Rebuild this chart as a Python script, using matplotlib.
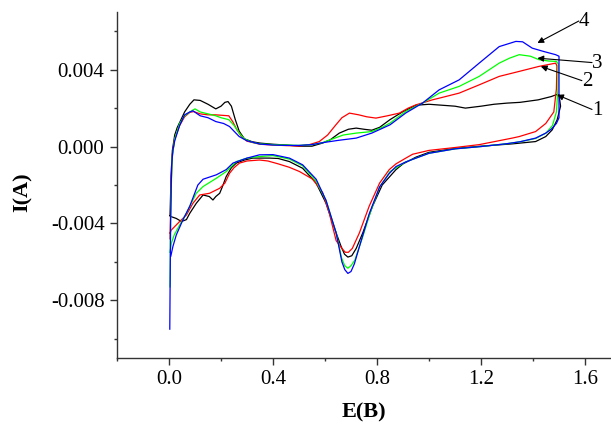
import numpy as np
import matplotlib
matplotlib.use('Agg')
import matplotlib.pyplot as plt
from matplotlib.ticker import MultipleLocator, FormatStrFormatter

plt.rc('font', family='Liberation Serif')

# curve 1 (black): anodic branch then cathodic branch
e1 = [0.004, 0.008, 0.013, 0.022, 0.032, 0.041, 0.06, 0.08, 0.096, 0.12, 0.15, 0.18, 0.2, 0.215, 0.227,
      0.24, 0.255, 0.27, 0.29, 0.32, 0.35, 0.4, 0.45, 0.5, 0.55, 0.59, 0.62, 0.655, 0.69, 0.72, 0.75, 0.78,
      0.81, 0.85, 0.9, 0.95, 1.0, 1.05, 1.1, 1.14, 1.2, 1.25, 1.3, 1.35, 1.42, 1.47, 1.49, 1.5,
      1.506, 1.493, 1.474, 1.449, 1.41, 1.32, 1.2, 1.1, 1.0, 0.95, 0.9, 0.873, 0.82, 0.783, 0.745, 0.72,
      0.703, 0.688, 0.675, 0.662, 0.643, 0.604, 0.566, 0.514, 0.463, 0.42, 0.387, 0.35, 0.322, 0.29, 0.259,
      0.24, 0.22, 0.205, 0.195, 0.18, 0.169, 0.155, 0.131, 0.105, 0.08, 0.067, 0.048, 0.028, 0.009, 0.004]
i1 = [-0.0036, -0.0015, -0.0002, 0.0006, 0.001, 0.00125, 0.0018, 0.0022, 0.00243, 0.0024, 0.0022, 0.00196,
      0.0021, 0.0023, 0.00234, 0.0021, 0.0014, 0.0008, 0.0004, 0.00025, 0.00018, 0.00012, 0.00008, 0.00002,
      0.00002, 0.00018, 0.00035, 0.0007, 0.0009, 0.00096, 0.0009, 0.00085, 0.001, 0.0014, 0.00182, 0.00215,
      0.0022, 0.00215, 0.0021, 0.002, 0.0021, 0.0022, 0.00226, 0.0023, 0.00243, 0.0026, 0.0027, 0.0027,
      0.0021, 0.0014, 0.00087, 0.00052, 0.00026, 0.00014, 0.00002, -0.0001, -0.0003, -0.00055, -0.0009,
      -0.0012, -0.002, -0.0031, -0.0045, -0.0053, -0.00568, -0.00575, -0.0056, -0.0052, -0.0045, -0.00295,
      -0.0019, -0.00113, -0.00078, -0.00062, -0.0006, -0.0006, -0.0006, -0.0007, -0.00086, -0.0011, -0.00156,
      -0.0021, -0.00243, -0.0026, -0.00278, -0.0026, -0.00252, -0.00295, -0.00347, -0.0038, -0.0039,
      -0.00374, -0.00365, -0.0036]

# curve 2 (red)
e2 = [0.004, 0.008, 0.013, 0.022, 0.041, 0.06, 0.08, 0.095, 0.12, 0.15, 0.18, 0.2, 0.23, 0.245, 0.26, 0.28,
      0.3, 0.35, 0.4, 0.45, 0.5, 0.54, 0.578, 0.61, 0.64, 0.665, 0.694, 0.73, 0.76, 0.796, 0.84, 0.886, 0.92,
      0.95, 1.013, 1.04, 1.116, 1.193, 1.27, 1.347, 1.423, 1.487,
      1.492, 1.49, 1.48, 1.449, 1.41, 1.347, 1.32, 1.193, 1.1, 1.0, 0.937, 0.911, 0.873, 0.847, 0.81, 0.77,
      0.732, 0.705, 0.69, 0.678, 0.665, 0.643, 0.617, 0.591, 0.553, 0.502, 0.463, 0.42, 0.38, 0.348, 0.3,
      0.271, 0.25, 0.233, 0.215, 0.195, 0.156, 0.118, 0.092, 0.067, 0.041, 0.009, 0.004]
i2 = [-0.0048, -0.002, -0.0004, 0.0004, 0.0011, 0.00155, 0.00178, 0.00182, 0.0017, 0.00165, 0.00165,
      0.00163, 0.0016, 0.0013, 0.0009, 0.0005, 0.00028, 0.00012, 0.00008, 0.00005, 0.00003, 0.0001, 0.00026,
      0.0006, 0.0011, 0.0015, 0.00174, 0.00165, 0.00155, 0.00148, 0.0016, 0.00174, 0.002, 0.00217, 0.00243,
      0.00252, 0.00278, 0.00321, 0.00365, 0.00391, 0.00417, 0.00434,
      0.0042, 0.003, 0.0018, 0.0012, 0.00078, 0.00052, 0.00044, 0.0001, -0.00005, -0.0002, -0.0004, -0.0006,
      -0.0009, -0.0012, -0.0019, -0.0031, -0.0045, -0.0053, -0.0055, -0.0055, -0.0053, -0.0049, -0.0035,
      -0.0024, -0.0017, -0.0013, -0.00108, -0.0009, -0.00075, -0.0007, -0.00075, -0.00086, -0.0011, -0.00139,
      -0.0019, -0.00217, -0.00243, -0.00252, -0.00295, -0.00356, -0.0039, -0.00434, -0.0045]

# curve 3 (green)
e3 = [0.004, 0.007, 0.012, 0.022, 0.041, 0.06, 0.08, 0.1, 0.12, 0.15, 0.18, 0.2, 0.23, 0.25, 0.27, 0.29,
      0.32, 0.35, 0.4, 0.45, 0.5, 0.55, 0.59, 0.63, 0.67, 0.72, 0.78, 0.82, 0.85, 0.91, 0.975, 1.039, 1.116,
      1.193, 1.27, 1.31, 1.347, 1.39, 1.423, 1.46, 1.49,
      1.497, 1.496, 1.49, 1.475, 1.45, 1.41, 1.35, 1.3, 1.2, 1.1, 1.0, 0.95, 0.91, 0.85, 0.81, 0.775, 0.745,
      0.715, 0.7, 0.688, 0.676, 0.664, 0.643, 0.604, 0.566, 0.514, 0.463, 0.4, 0.348, 0.3, 0.259, 0.22, 0.182,
      0.131, 0.105, 0.08, 0.067, 0.041, 0.02, 0.009, 0.004]
i3 = [-0.0073, -0.003, -0.0006, 0.0004, 0.0012, 0.0016, 0.0018, 0.00196, 0.0018, 0.0017, 0.0016, 0.0015,
      0.0014, 0.0011, 0.0007, 0.0004, 0.00022, 0.00014, 0.0001, 0.00008, 0.00006, 0.0001, 0.0002, 0.0004,
      0.0006, 0.0007, 0.00078, 0.001, 0.00122, 0.00182, 0.00226, 0.00278, 0.00313, 0.00365, 0.00434, 0.0046,
      0.00478, 0.0047, 0.00452, 0.00445, 0.00443,
      0.0043, 0.003, 0.0018, 0.0011, 0.0007, 0.00042, 0.00025, 0.00015, 0.0, -0.00012, -0.00035, -0.0006,
      -0.0008, -0.0013, -0.0021, -0.0034, -0.0047, -0.0059, -0.0062, -0.00633, -0.0062, -0.0058, -0.0045,
      -0.0028, -0.0018, -0.001, -0.00065, -0.00047, -0.00052, -0.0006, -0.00078, -0.0013, -0.00165, -0.00208,
      -0.00243, -0.0031, -0.00347, -0.00408, -0.0046, -0.00503, -0.0055]

# curve 4 (blue)
e4 = [0.003, 0.006, 0.01, 0.015, 0.022, 0.041, 0.06, 0.08, 0.092, 0.12, 0.15, 0.18, 0.21, 0.233, 0.25, 0.27,
      0.3, 0.35, 0.4, 0.45, 0.5, 0.55, 0.59, 0.65, 0.72, 0.78, 0.85, 0.91, 0.975, 1.039, 1.116, 1.193, 1.27,
      1.334, 1.36, 1.397, 1.44, 1.487, 1.5,
      1.5, 1.49, 1.47, 1.449, 1.41, 1.35, 1.3, 1.2, 1.1, 1.0, 0.95, 0.911, 0.873, 0.847, 0.81, 0.77, 0.739,
      0.713, 0.7, 0.688, 0.676, 0.665, 0.643, 0.604, 0.566, 0.514, 0.463, 0.4, 0.348, 0.3, 0.246, 0.22, 0.182,
      0.131, 0.111, 0.08, 0.054, 0.028, 0.015, 0.007]
i4 = [-0.0095, -0.004, -0.001, -0.0002, 0.0003, 0.0011, 0.00165, 0.0018, 0.00186, 0.0016, 0.0015, 0.0013,
      0.0012, 0.00104, 0.0008, 0.00052, 0.0003, 0.00013, 0.00008, 0.00006, 0.00006, 0.0001, 0.0002, 0.00032,
      0.00044, 0.0007, 0.00113, 0.00174, 0.00226, 0.00295, 0.00347, 0.00434, 0.0052, 0.00547, 0.00545,
      0.00512, 0.00495, 0.00478, 0.0047,
      0.0015, 0.0012, 0.0009, 0.0007, 0.00044, 0.00025, 0.00015, 0.0, -0.00012, -0.00035, -0.0006, -0.0008,
      -0.00104, -0.0014, -0.0021, -0.0035, -0.0049, -0.0061, -0.0065, -0.0066, -0.0064, -0.006, -0.0045,
      -0.0028, -0.0017, -0.00095, -0.0006, -0.00042, -0.00043, -0.0006, -0.00086, -0.0012, -0.00147, -0.0017,
      -0.002, -0.0031, -0.0038, -0.0046, -0.0052, -0.0057]

curves = [(e1, i1, 'black'), (e2, i2, '#ff0000'), (e3, i3, '#00ff00'), (e4, i4, '#0000ff')]

# curve labels: text position, arrow head position
labels = ['1', '2', '3', '4']
label_xy = [(1.647, 0.0019), (1.608, 0.0034), (1.647, 0.00434), (1.596, 0.0065)]
arrow_xy = [(1.493, 0.00269), (1.43, 0.00417), (1.417, 0.0046), (1.417, 0.00539)]

fig = plt.figure(figsize=(6.11, 4.26), dpi=100)
ax = fig.add_axes([117 / 611, 68 / 426, 494 / 611, 346 / 426])

for e, i, c in curves:
    ax.plot(e, i, color=c, lw=0.9)

for lab, (tx, ty), (hx, hy) in zip(labels, label_xy, arrow_xy):
    ax.annotate('', xy=(hx, hy), xytext=(tx - 0.02, ty + 0.00003),
                arrowprops=dict(arrowstyle='-|>', color='k', lw=0.8, mutation_scale=9, shrinkA=0, shrinkB=0))
    ax.text(tx, ty, lab, fontsize=15, ha='center', va='center')

ax.set_xlim(-0.2, 1.7)
ax.set_ylim(-0.011, 0.007)
ax.xaxis.set_major_locator(MultipleLocator(0.4))
ax.xaxis.set_minor_locator(MultipleLocator(0.2))
ax.yaxis.set_major_locator(MultipleLocator(0.004))
ax.yaxis.set_minor_locator(MultipleLocator(0.002))
ax.xaxis.set_major_formatter(FormatStrFormatter('%.1f'))
ax.yaxis.set_major_formatter(FormatStrFormatter('%.3f'))

for s in ['top', 'right']:
    ax.spines[s].set_visible(False)
for s in ['left', 'bottom']:
    ax.spines[s].set_color('#333333')
    ax.spines[s].set_linewidth(1.0)

ax.tick_params(which='major', direction='out', length=5, width=1, labelsize=15, pad=4, color='#333333')
ax.tick_params(which='minor', direction='out', length=2.5, width=1, color='#333333')

ax.set_xlabel('E(B)', fontsize=16, fontweight='bold')
ax.set_ylabel('I(A)', fontsize=16, fontweight='bold')
ax.xaxis.set_label_coords(0.5, -0.13)
ax.yaxis.set_label_coords(-0.17, 0.48)

fig.savefig('out.png', dpi=100)
